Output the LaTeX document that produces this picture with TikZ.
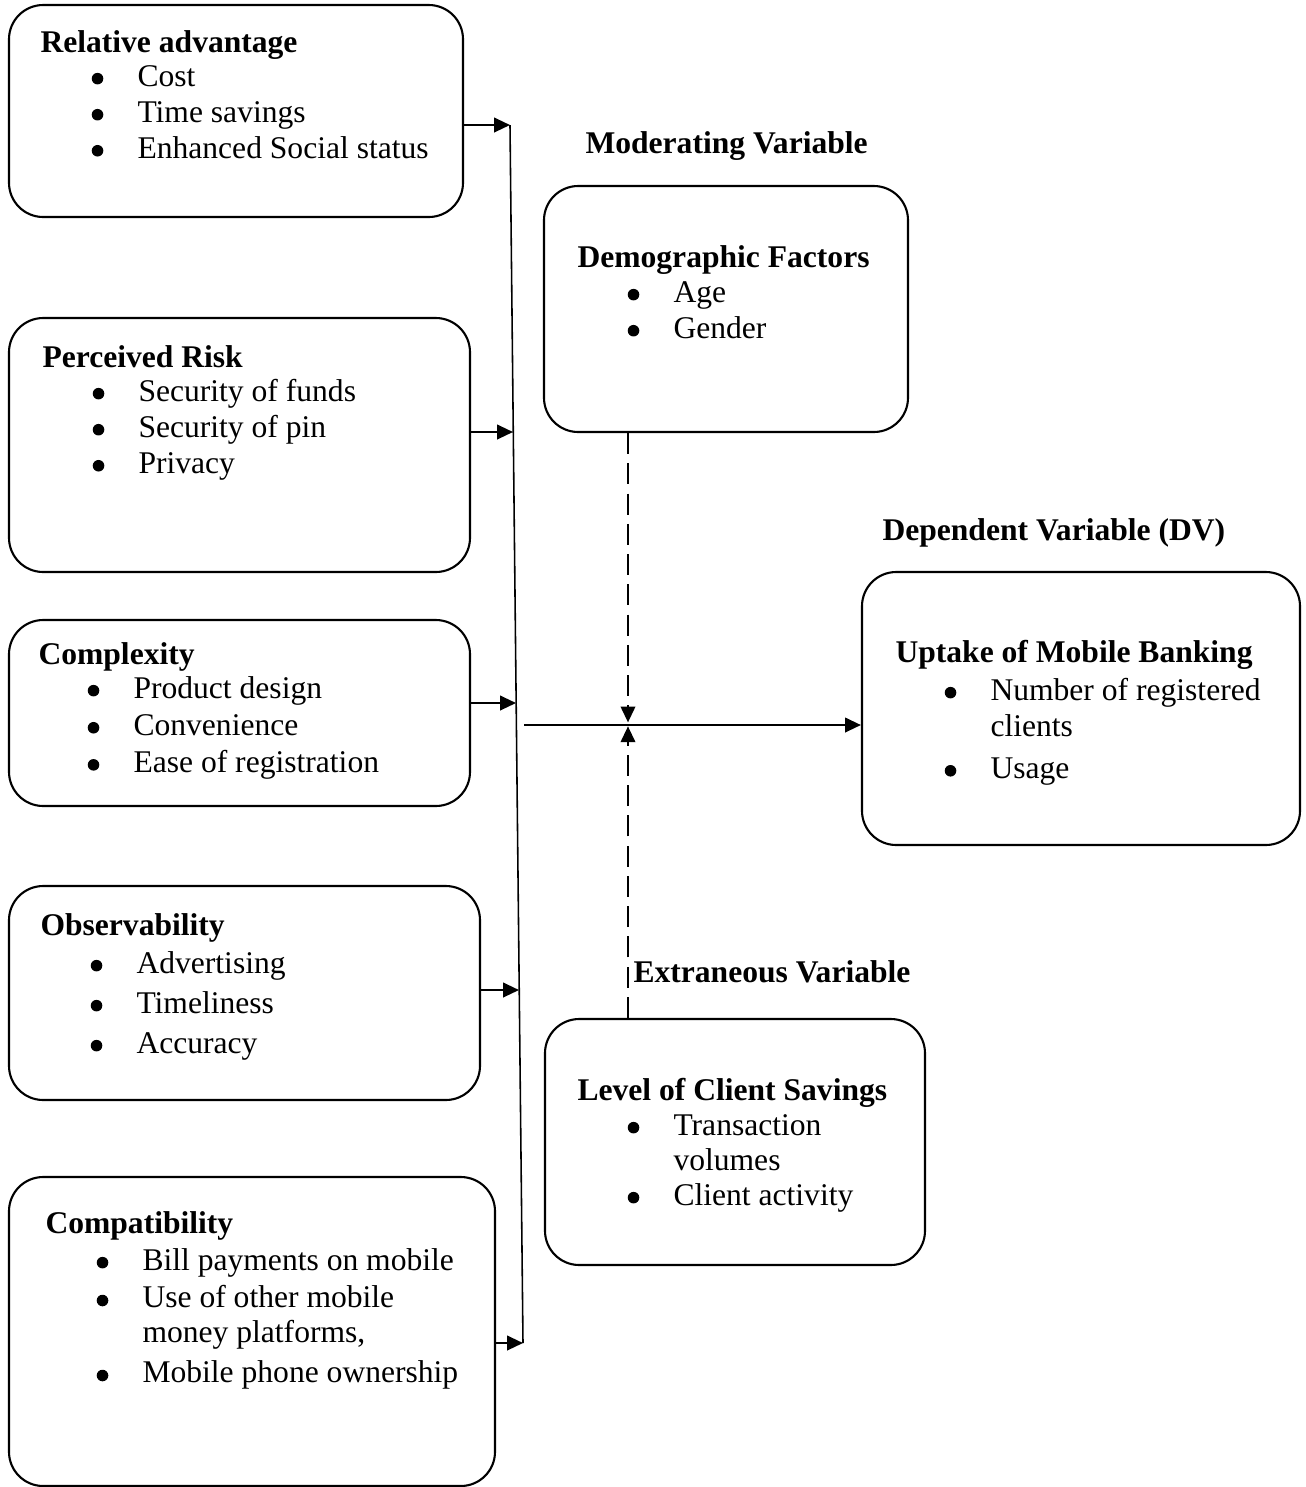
\documentclass[tikz,border=0pt]{standalone}
\usepackage{fontspec}
\setmainfont{Liberation Serif}
\usetikzlibrary{arrows.meta,fit}

\newcommand{\bul}{\llap{\tikz[baseline=0pt]\fill (0,2.8pt) circle (2.2pt);\hspace{13pt}}}
\newcommand{\blist}[1]{\begin{tabular}[t]{@{}l@{}}#1\end{tabular}}

\tikzset{
  box/.style={draw,rounded corners=13pt,line width=0.8pt,inner sep=0pt},
  txt/.style={anchor=base west,inner sep=0pt,font=\fontsize{12}{13.7}\selectfont},
  ttl/.style={txt,font=\fontsize{12}{13.7}\selectfont\bfseries},
  link/.style={->,line width=0.8pt},
  modlink/.style={->,line width=0.8pt,dash pattern=on 8pt off 3.5pt},
}

\begin{document}
\begin{tikzpicture}[x=0.38pt,y=-0.38pt,>={Triangle[length=6pt,width=5.5pt]}]
\useasboundingbox (0,0) rectangle (1306,1487);

% independent variables
\node[box,fit={(9,5) (463,217)}] (radv) {};
\node[ttl] (radvT) at (40,52) {Relative advantage};
\node[txt] (radvL) at (137,86)
    {\blist{\bul Cost\\ \bul Time savings\\ \bul Enhanced Social status}};

\node[box,fit={(9,318) (470,572)}] (risk) {};
\node[ttl] (riskT) at (42,367) {Perceived Risk};
\node[txt] (riskL) at (138,401)
    {\blist{\bul Security of funds\\ \bul Security of pin\\ \bul Privacy}};

\node[box,fit={(9,620) (470,806)}] (cplx) {};
\node[ttl] (cplxT) at (38,664) {Complexity};
\node[txt] (cplxL) at (133,698)
    {\blist{\bul Product design\\[0.4pt] \bul Convenience\\[0.4pt] \bul Ease of registration}};

\node[box,fit={(9,886) (480,1100)}] (obs) {};
\node[ttl] (obsT) at (40,935) {Observability};
\node[txt] (obsL) at (136,973)
    {\blist{\bul Advertising\\[1.5pt] \bul Timeliness\\[1.5pt] \bul Accuracy}};

\node[box,fit={(9,1177) (495,1486)}] (compat) {};
\node[ttl] (compatT) at (45,1233) {Compatibility};
\node[txt] (compatL) at (142,1270)
    {\blist{\bul Bill payments on mobile\\[0.7pt] \bul Use of other mobile\\[-0.4pt]
            money platforms,\\[1.5pt] \bul Mobile phone ownership}};

% moderating variable
\node[ttl] (modT) at (585,153) {Moderating Variable};
\node[box,fit={(544,186) (908,432)}] (demo) {};
\node[ttl] (demoT) at (577,267) {Demographic Factors};
\node[txt] (demoL) at (673,302) {\blist{\bul Age\\ \bul Gender}};

% extraneous variable
\node[ttl] (extT) at (633,982) {Extraneous Variable};
\node[box,fit={(545,1019) (925,1265)}] (savings) {};
\node[ttl] (savingsT) at (577,1100) {Level of Client Savings};
\node[txt] (savingsL) at (673,1135)
    {\blist{\bul Transaction\\[-0.4pt] volumes\\[-0.4pt] \bul Client activity}};

% dependent variable
\node[ttl] (depT) at (882,540) {Dependent Variable (DV)};
\node[box,fit={(862,572) (1300,845)}] (uptake) {};
\node[ttl] (uptakeT) at (895,662) {Uptake of Mobile Banking};
\node[txt] (uptakeL) at (990,700)
    {\blist{\bul Number of registered\\ clients\\[2.3pt] \bul Usage}};

% collecting line
\coordinate (busT) at (510,125);
\coordinate (b2) at (513,432);
\coordinate (b3) at (516,703);
\coordinate (b4) at (519,990);
\coordinate (busB) at (523,1343);
\draw[line width=0.6pt] (busT) -- (busB);

\draw[link] (radv.east |- busT) -- (busT);
\draw[link] (risk.east |- b2) -- (b2);
\draw[link] (cplx.east |- b3) -- (b3);
\draw[link] (obs.east |- b4) -- (b4);
\draw[link] (compat.east |- busB) -- (busB);

% to the dependent variable
\coordinate (hub) at (524,725);
\coordinate (mid) at (628,725);
\draw[link] (hub) -- (hub -| uptake.west);
\draw[modlink] (mid |- demo.south) -- ([yshift=1pt]mid);
\draw[modlink] (mid |- savings.north) -- ([yshift=-0.5pt]mid);
\end{tikzpicture}
\end{document}
